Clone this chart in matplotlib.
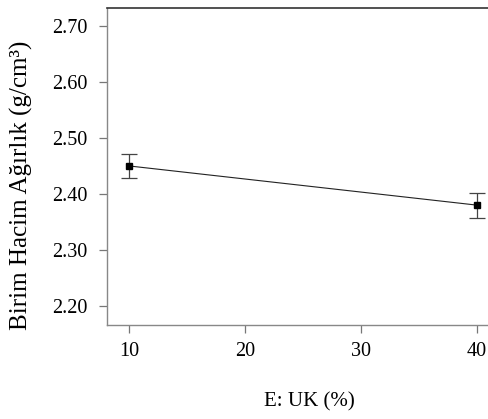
import matplotlib
matplotlib.use('Agg')
import matplotlib.pyplot as plt

# mean unit weight vs UK content, with error bars
uk = [10, 40]
unit_weight = [2.450, 2.380]
err = [0.022, 0.0225]

yticks = [2.20, 2.30, 2.40, 2.50, 2.60, 2.70]
xticks = [10, 20, 30, 40]

plt.rcParams['font.family'] = ['Liberation Serif', 'DejaVu Serif']

fig = plt.figure(figsize=(4.89, 4.19), dpi=100)
ax = fig.add_axes([107/489, 1 - 325/419, 382/489, 317/419])

ax.errorbar(uk, unit_weight, yerr=err, fmt='none', ecolor='#444444',
            elinewidth=0.9, capsize=6, capthick=0.9, zorder=2)
ax.plot(uk, unit_weight, color='#222222', lw=0.8, marker='s', ms=5,
        mfc='black', mec='black', zorder=3)

ax.set_xlim(8.1, 41.03)
ax.set_ylim(2.166, 2.732)
ax.set_xticks(xticks)
ax.set_yticks(yticks)
ax.set_yticklabels([f'{v:.2f}' for v in yticks])

for side in ['left', 'bottom']:
    ax.spines[side].set_color('#888888')
    ax.spines[side].set_linewidth(1.0)
ax.spines['top'].set_color('#333333')
ax.spines['top'].set_linewidth(1.2)
ax.spines['right'].set_visible(False)

ax.tick_params(axis='both', direction='out', length=6, width=0.9,
               color='#777777', labelsize=14.5)
ax.tick_params(axis='y', pad=8)
ax.tick_params(axis='x', pad=6)

ax.set_xlabel('E: UK (%)', fontsize=15)
ax.set_ylabel('Birim Hacim Ağırlık (g/cm³)', fontsize=18)
ax.xaxis.set_label_coords(0.529, -0.213)
ax.yaxis.set_label_coords(-0.194, 0.442)

fig.savefig('out.png', dpi=100)
